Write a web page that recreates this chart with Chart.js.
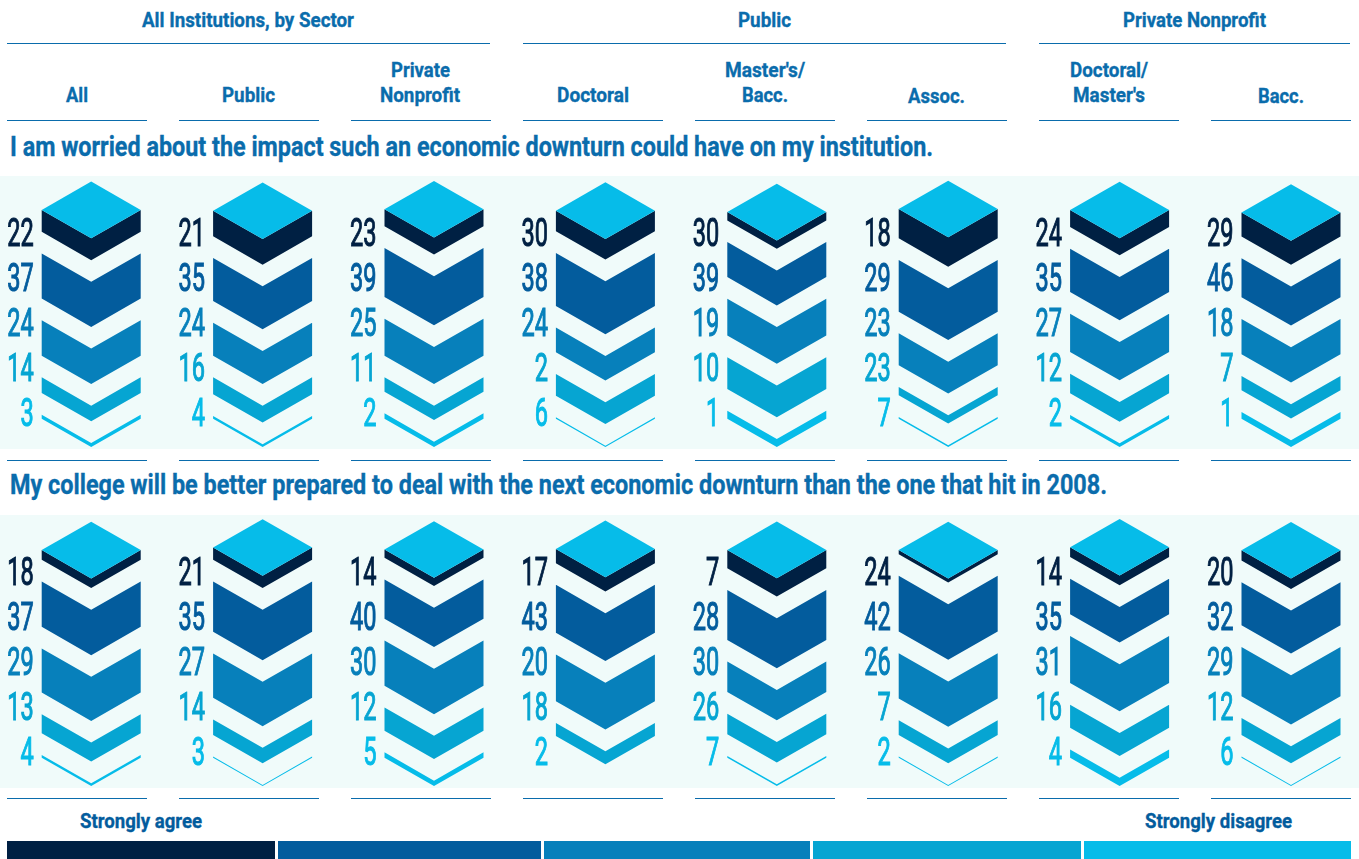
<!DOCTYPE html>
<html><head><meta charset="utf-8">
<script src="https://cdn.jsdelivr.net/npm/chart.js@4"></script>
<style>
html,body{margin:0;padding:0;background:#fff;width:1359px;height:859px;overflow:hidden}
.t{position:absolute;white-space:nowrap;font-family:Roboto,sans-serif;font-weight:700;color:#0a6cac;transform-origin:0 50%;-webkit-text-stroke:0.35px currentColor}
.r{position:absolute;height:1px;background:#0a6cac}
.s{position:absolute}
canvas{position:absolute;left:0;background:#f0fbfa}
</style></head><body>
<canvas id="c1" width="1359" height="273" style="top:176px"></canvas>
<canvas id="c2" width="1359" height="273" style="top:515px"></canvas>
<script>
const categories=["All","Public","Private Nonprofit","Doctoral","Master's/Bacc.","Assoc.","Doctoral/Master's","Bacc."];
const responses=["Strongly agree","Agree","Neutral","Disagree","Strongly disagree"];
const colors=["#002043","#035c9d","#0780bb","#06a5d2","#06bce9"];

// Printed numbers
const worriedLabelSA=[22,21,23,30,30,18,24,29];
const worriedLabelA=[37,35,39,38,39,29,35,46];
const worriedLabelN=[24,24,25,24,19,23,27,18];
const worriedLabelD=[14,16,11,2,10,23,12,7];
const worriedLabelSD=[3,4,2,6,1,7,2,1];
const preparedLabelSA=[18,21,14,17,7,24,14,20];
const preparedLabelA=[37,35,40,43,28,42,35,32];
const preparedLabelN=[29,27,30,20,30,26,31,29];
const preparedLabelD=[13,14,12,18,26,7,16,12];
const preparedLabelSD=[4,3,5,2,7,2,4,6];

// Band thicknesses as drawn in the picture
const worriedBandSA=[18,21,13.9,16.9,6.8,24,13.9,19.7];
const worriedBandA=[36.9,35.2,40.2,43.4,28.7,42.3,35.5,32];
const worriedBandN=[29,27,30.3,20.2,30.1,26.2,31.4,29];
const worriedBandD=[12.8,13.9,11.7,17.8,26,6.8,16.1,11.7];
const worriedBandSD=[3.3,2.2,4.4,1.1,6.6,1.4,3,5.5];
const preparedBandSA=[7.9,10.1,6.8,11.7,15,3.3,7.9,8.5];
const preparedBandA=[37.2,41.3,32.2,39.3,41,45.6,29.2,35.2];
const preparedBandN=[36.1,36.3,37.2,38.3,24.9,37.2,38.5,40.4];
const preparedBandD=[15.6,12.6,18.9,10.7,16.9,12,18.9,13.9];
const preparedBandSD=[2.2,0.9,4.4,0,1.4,0.9,6.8,0.9];

const GAP=21.7, APEX=28.3, BAR=99;

const chevronPlugin={
  id:'chevrons',
  beforeDatasetDraw(chart,args){
    const ctx=chart.ctx, i=args.index, shift=GAP*i, ds=chart.data.datasets[i];
    args.meta.data.forEach((el,k)=>{
      const h=el.base-el.y;
      const L=el.x-BAR/2, R=el.x+BAR/2, top=el.y-shift, bot=el.base-shift;
      if(h>0.05){
        ctx.fillStyle=ds.backgroundColor;
        ctx.beginPath();
        ctx.moveTo(L,top);ctx.lineTo(el.x,top+APEX);ctx.lineTo(R,top);
        ctx.lineTo(R,bot);ctx.lineTo(el.x,bot+APEX);ctx.lineTo(L,bot);
        ctx.closePath();ctx.fill();
      }
      if(i===4){
        ctx.fillStyle=colors[4];
        ctx.beginPath();
        ctx.moveTo(L,top);ctx.lineTo(el.x,top-APEX);ctx.lineTo(R,top);ctx.lineTo(el.x,top+APEX);
        ctx.closePath();ctx.fill();
      }
    });
    return false;
  },
  afterDatasetsDraw(chart){
    const ctx=chart.ctx, rows=chart.options.plugins.chevrons.rows;
    const meta=chart.getDatasetMeta(0);
    ctx.save();
    ctx.font='400 38px "Liberation Sans Narrow","Roboto",sans-serif';
    ctx.textAlign='right';ctx.textBaseline='alphabetic';
    rows.forEach((row,r)=>{
      ctx.fillStyle=colors[r];
      ctx.strokeStyle=colors[r];
      ctx.lineWidth=1.1;
      row.forEach((v,k)=>{
        ctx.save();
        ctx.translate(meta.data[k].x-BAR/2-8,56+45*r+13.5);
        ctx.scale(0.62,1);
        ctx.fillText(String(v),0,0);
        ctx.strokeText(String(v),0,0);
        ctx.restore();
      });
    });
    ctx.restore();
  }
};

function panel(id,bands,rows){
  return new Chart(document.getElementById(id),{
    type:'bar',
    plugins:[chevronPlugin],
    data:{labels:categories,datasets:bands.map((b,i)=>({label:responses[i],data:b,backgroundColor:colors[i],barThickness:BAR})).reverse()},
    options:{
      responsive:false,animation:false,
      layout:{padding:{left:91.2,right:68,top:114.6,bottom:30.3}},
      plugins:{legend:{display:false},tooltip:{enabled:false},chevrons:{rows}},
      scales:{
        x:{type:'category',stacked:true,offset:false,display:false},
        y:{stacked:true,min:0,max:105,display:false}
      }
    }
  });
}
panel('c1',[worriedBandSA,worriedBandA,worriedBandN,worriedBandD,worriedBandSD],
  [worriedLabelSA,worriedLabelA,worriedLabelN,worriedLabelD,worriedLabelSD]);
panel('c2',[preparedBandSA,preparedBandA,preparedBandN,preparedBandD,preparedBandSD],
  [preparedLabelSA,preparedLabelA,preparedLabelN,preparedLabelD,preparedLabelSD]);

function T(s,x0,x1,cy,size,color){
  const d=document.createElement('div');d.className='t';d.textContent=s;
  d.style.fontSize=size+'px';d.style.lineHeight=(size+4)+'px';
  d.style.left=x0+'px';d.style.top=(cy-(size+4)/2)+'px';
  if(color)d.style.color=color;
  document.body.appendChild(d);
  d.style.transform='scaleX('+((x1-x0)/d.getBoundingClientRect().width)+')';
}
function R(x0,x1,y){const d=document.createElement('div');d.className='r';d.style.left=x0+'px';d.style.width=(x1-x0)+'px';d.style.top=y+'px';document.body.appendChild(d);}

T("All Institutions, by Sector",142,354,20,21);
T("Public",738,791,20,21);
T("Private Nonprofit",1123,1266,20,21);
T("All",66,88,95,21);
T("Public",222,275,95,21);
T("Private",391,450,70,21);
T("Nonprofit",380,460,95,21);
T("Doctoral",557,629,95,21);
T("Master's/",725,805,70,21);
T("Bacc.",742,788,95,21);
T("Assoc.",908,965,96,21);
T("Doctoral/",1070,1148,70,21);
T("Master's",1073,1145,95,21);
T("Bacc.",1258,1304,96,21);
T("I am worried about the impact such an economic downturn could have on my institution.",10,933,147,27);
T("My college will be better prepared to deal with the next economic downturn than the one that hit in 2008.",10,1107,485,27);
T("Strongly agree",80,202,821,21,"#035c9d");
T("Strongly disagree",1145,1292,821,21,"#035c9d");

[[7,490],[523,1006],[1039,1350]].forEach(a=>R(a[0],a[1],43));
[7,179,351,523,695,867,1039,1211].forEach(x=>{[120,460,798].forEach(y=>R(x,x+140,y));});

[[7,275],[278,541],[544,810],[813,1081],[1084,1351]].forEach((a,i)=>{
  const d=document.createElement('div');d.className='s';
  d.style.cssText+=`left:${a[0]}px;width:${a[1]-a[0]}px;top:841px;height:18px;background:${colors[i]}`;
  document.body.appendChild(d);
});
</script>
</body></html>
